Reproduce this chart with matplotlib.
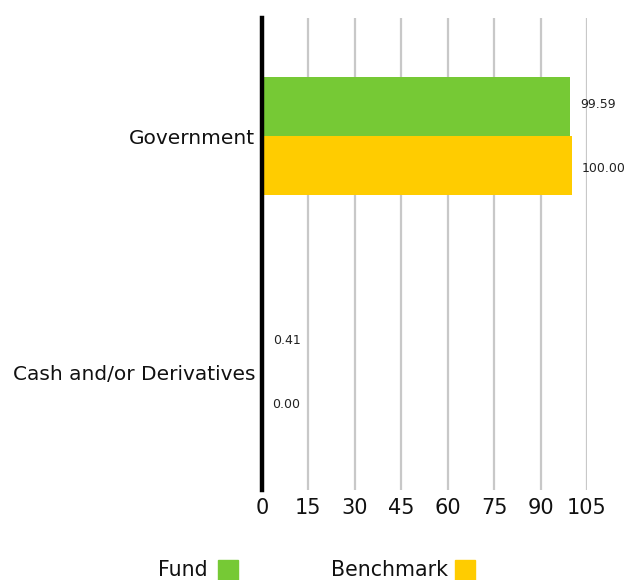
import matplotlib
matplotlib.use("Agg")
import matplotlib.pyplot as plt
from matplotlib.patches import Rectangle
from matplotlib.transforms import offset_copy

categories = ["Government", "Cash and/or Derivatives"]
fund = [99.59, 0.41]
benchmark = [100.00, 0.00]
fund_labels = ["99.59", "0.41"]
bench_labels = ["100.00", "0.00"]
xticks = [0, 15, 30, 45, 60, 75, 90, 105]

GREEN = "#76c935"
YELLOW = "#ffcc00"

plt.rcParams['font.family'] = ['DejaVu Sans']

W, H = 630, 580
fig = plt.figure(figsize=(W/100, H/100), dpi=100)
ax = fig.add_axes([262/W, 90/H, 325/W, 472/H])

ypos = list(range(len(categories)))
bh = 0.25
ax.barh([y - bh/2 for y in ypos], fund, height=bh, color=GREEN, zorder=3)
ax.barh([y + bh/2 for y in ypos], benchmark, height=bh, color=YELLOW, zorder=3)

tr_f = offset_copy(ax.transData, fig=fig, x=10, y=2, units='dots')
tr_b = offset_copy(ax.transData, fig=fig, x=10, y=-3, units='dots')
for y, v, s in zip(ypos, fund, fund_labels):
    ax.text(v, y - bh/2, s, transform=tr_f, ha='left', va='center', fontsize=9, color='#222222')
for y, v, s in zip(ypos, benchmark, bench_labels):
    ax.text(v, y + bh/2, s, transform=tr_b, ha='left', va='center', fontsize=9, color='#222222')

ax.set_xlim(0, 105)
ax.set_ylim(len(categories) - 0.5, -0.5)
ax.set_xticks(xticks)
ax.set_xticklabels([str(t) for t in xticks], fontsize=15, color='#111111')
ax.set_yticks(ypos)
ax.set_yticklabels(categories, fontsize=14.5, color='#111111')
ax.tick_params(axis='both', length=0)
ax.tick_params(axis='x', pad=6)
ax.tick_params(axis='y', pad=5)
ax.grid(axis='x', color='#c8c8c8', linewidth=1.6, zorder=0)
for s in ['top', 'right', 'bottom']:
    ax.spines[s].set_visible(False)
ax.spines['left'].set_linewidth(3.2)
ax.spines['left'].set_color('black')
ax.spines['left'].set_zorder(5)

# legend
fig.text(208/W, 0, "Fund", ha='right', va='bottom', fontsize=14.8, color='#111111')
fig.patches.append(Rectangle((218/W, 0), 20/W, 20/H, transform=fig.transFigure, color=GREEN))
fig.text(448/W, 0, "Benchmark", ha='right', va='bottom', fontsize=14.8, color='#111111')
fig.patches.append(Rectangle((455/W, 0), 20/W, 20/H, transform=fig.transFigure, color=YELLOW))

fig.savefig("out.png", dpi=100)
